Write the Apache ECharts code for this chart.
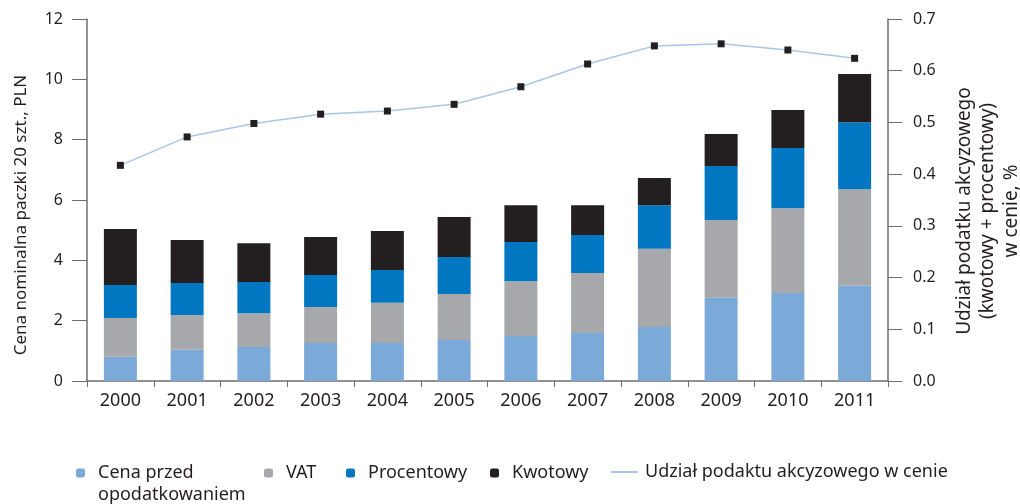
<!DOCTYPE html>
<html>
<head>
<meta charset="utf-8">
<script src="https://cdn.jsdelivr.net/npm/echarts@6/dist/echarts.min.js"></script>
<style>
html,body{margin:0;padding:0;background:#fff;}
#c{width:1020px;height:504px;}
</style>
</head>
<body>
<div id="c"></div>
<script>
const years = ['2000','2001','2002','2003','2004','2005','2006','2007','2008','2009','2010','2011'];
const cenaPrzed = [0.80,1.04,1.13,1.26,1.26,1.36,1.49,1.59,1.79,2.76,2.92,3.16];
const vat = [1.29,1.15,1.12,1.19,1.33,1.52,1.82,1.99,2.59,2.58,2.81,3.20];
const procentowy = [1.09,1.06,1.03,1.06,1.09,1.23,1.30,1.26,1.45,1.79,1.99,2.22];
const kwotowy = [1.86,1.42,1.29,1.26,1.29,1.33,1.22,0.99,0.90,1.06,1.26,1.60];
const udzial = [0.417,0.472,0.498,0.516,0.522,0.535,0.569,0.613,0.648,0.652,0.640,0.624];
const leftTicks = [0,2,4,6,8,10,12];
const rightTicks = [0,0.1,0.2,0.3,0.4,0.5,0.6,0.7];

const FONT = 'Noto Sans';
const TXT = '#231f20';
const AX = '#6d6e71';
const chart = echarts.init(document.getElementById('c'));
const legendBase = {orient:'horizontal', padding:0, itemWidth:9, itemHeight:9, selectedMode:false,
  textStyle:{fontFamily:FONT, fontSize:18, color:TXT, lineHeight:22, padding:[0,0,0,8]}};
chart.setOption({
  animation:false,
  textStyle:{fontFamily:FONT},
  grid:{left:87, right:132, top:19, bottom:123, containLabel:false},
  xAxis:{type:'category', data:years, boundaryGap:true,
    axisLine:{lineStyle:{color:AX, width:1.5}},
    axisTick:{show:true, length:6, lineStyle:{color:AX}},
    axisLabel:{fontSize:18, color:TXT, margin:11, fontFamily:FONT}},
  yAxis:[
    {type:'value', min:leftTicks[0], max:leftTicks[leftTicks.length-1], interval:2, position:'left',
     axisLine:{show:true, lineStyle:{color:AX, width:1.5}},
     axisTick:{show:true, length:15, lineStyle:{color:AX}},
     splitLine:{show:false},
     axisLabel:{fontSize:16, color:TXT, margin:24, fontFamily:FONT}},
    {type:'value', min:rightTicks[0], max:rightTicks[rightTicks.length-1], interval:0.1, position:'right',
     axisLine:{show:true, lineStyle:{color:AX, width:1.5}},
     axisTick:{show:true, length:14, lineStyle:{color:AX}},
     splitLine:{show:false},
     axisLabel:{fontSize:16, color:TXT, margin:25, fontFamily:FONT, formatter:v=>v.toFixed(1)}}
  ],
  legend:[
    Object.assign({}, legendBase, {left:76, top:440, data:['Cena przed opodatkowaniem'],
      formatter:()=> ' \nCena przed\nopodatkowaniem'}),
    Object.assign({}, legendBase, {left:264, top:462, data:['VAT']}),
    Object.assign({}, legendBase, {left:346, top:462, data:['Procentowy']}),
    Object.assign({}, legendBase, {left:490, top:462, data:['Kwotowy']}),
    Object.assign({}, legendBase, {left:611, top:461, itemWidth:27, itemHeight:2,
      textStyle:{fontFamily:FONT, fontSize:18, color:TXT, lineHeight:22, padding:[0,0,0,2]},
      data:[{name:'Udział podaktu akcyzowego w cenie', icon:'rect', itemStyle:{color:'#a9c6e8'}}]})
  ],
  graphic:[
    {type:'text', x:21, y:215, rotation:Math.PI/2,
     style:{text:'Cena nominalna paczki 20 szt., PLN', fontFamily:FONT, fontSize:17, fill:TXT, align:'center', verticalAlign:'middle'}},
    {type:'text', x:988, y:211, rotation:Math.PI/2,
     style:{text:'Udział podatku akcyzowego\n(kwotowy + procentowy)\nw cenie, %', fontFamily:FONT, fontSize:19, lineHeight:23.5, fill:TXT, align:'center', verticalAlign:'middle'}}
  ],
  series:[
    {name:'Cena przed opodatkowaniem', type:'bar', stack:'a', barWidth:33, data:cenaPrzed, itemStyle:{color:'#7baad9'}},
    {name:'VAT', type:'bar', stack:'a', barWidth:33, data:vat, itemStyle:{color:'#a7a8ab'}},
    {name:'Procentowy', type:'bar', stack:'a', barWidth:33, data:procentowy, itemStyle:{color:'#0077c0'}},
    {name:'Kwotowy', type:'bar', stack:'a', barWidth:33, data:kwotowy, itemStyle:{color:'#231f20'}},
    {name:'Udział podaktu akcyzowego w cenie', type:'line', yAxisIndex:1, data:udzial, z:5,
     symbol:'rect', symbolSize:7, itemStyle:{color:'#231f20'},
     lineStyle:{color:'#a9c6e8', width:1.5}}
  ]
});
</script>
</body>
</html>
